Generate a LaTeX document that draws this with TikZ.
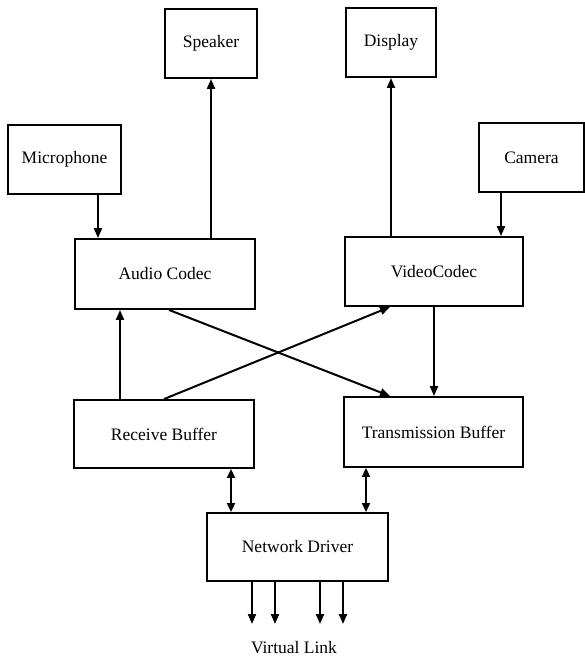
\documentclass[tikz,border=0pt]{standalone}
\usepackage{fontspec}
\setmainfont{Liberation Serif}
\usetikzlibrary{arrows.meta}
\begin{document}
\begin{tikzpicture}[x=1pt,y=-1pt,
  lbl/.style={font=\fontsize{17.5}{20}\selectfont},
  blk/.style={lbl, draw, line width=1.9pt, inner sep=0pt},
  flow/.style={line width=2pt, -{Triangle[length=10pt,width=8pt]}},
  both/.style={line width=2pt, {Triangle[length=9pt,width=8pt]}-{Triangle[length=9pt,width=8pt]}}]
\useasboundingbox (0,0) rectangle (585,659);

% boxes (centre, width, height)
\node[blk, minimum width=92pt,  minimum height=69pt] (spk)  at (211,43.5)   {Speaker};
\node[blk, minimum width=90pt,  minimum height=69pt] (disp) at (391,42.5)   {Display};
\node[blk, minimum width=113pt, minimum height=69pt] (mic)  at (64.5,159.5) {Microphone};
\node[blk, minimum width=105pt, minimum height=69pt] (cam)  at (531.5,157.5){Camera};
\node[blk, minimum width=180pt, minimum height=70pt] (aud)  at (165,274)    {Audio Codec};
\node[blk, minimum width=178pt, minimum height=69pt] (vid)  at (434,271.5)  {VideoCodec};
\node[blk, minimum width=180pt, minimum height=68pt] (rxb)  at (164,434)    {Receive Buffer};
\node[blk, minimum width=179pt, minimum height=70pt] (txb)  at (433.5,432)  {Transmission Buffer};
\node[blk, minimum width=181pt, minimum height=68pt] (net)  at (297.5,547)  {Network Driver};
\node[lbl] (vl) at (294,648) {Virtual Link};

% devices and codecs
\draw[flow] (spk.south |- aud.north) -- (spk.south);
\draw[flow] (disp.south |- vid.north) -- (disp.south);
\draw[flow] ([xshift=33.5pt]mic.south) -- ([xshift=33.5pt]mic.south |- aud.north);
\draw[flow] ([xshift=-30.5pt]cam.south) -- ([xshift=-30.5pt]cam.south |- vid.north);

% codecs and buffers
\draw[flow] ([xshift=-44pt]rxb.north) -- ([xshift=-44pt]rxb.north |- aud.south);
\draw[flow] (rxb.north) -- ([xshift=-44pt]vid.south);
\draw[flow] ([xshift=4pt]aud.south) -- ([xshift=-43.5pt]txb.north);
\draw[flow] (vid.south) -- (vid.south |- txb.north);

% buffers and network driver
\draw[both] ([xshift=-66.5pt]net.north) -- ([xshift=-66.5pt]net.north |- rxb.south);
\draw[both] ([xshift=68.5pt]net.north) -- ([xshift=68.5pt]net.north |- txb.south);

% virtual link outputs
\foreach \dx in {-45.5,-22.5,22.5,45.5}{
  \coordinate (vend) at ([xshift=\dx pt]net.south |- 0,624);
  \draw[flow] ([xshift=\dx pt]net.south) -- (vend);
}
\end{tikzpicture}
\end{document}
